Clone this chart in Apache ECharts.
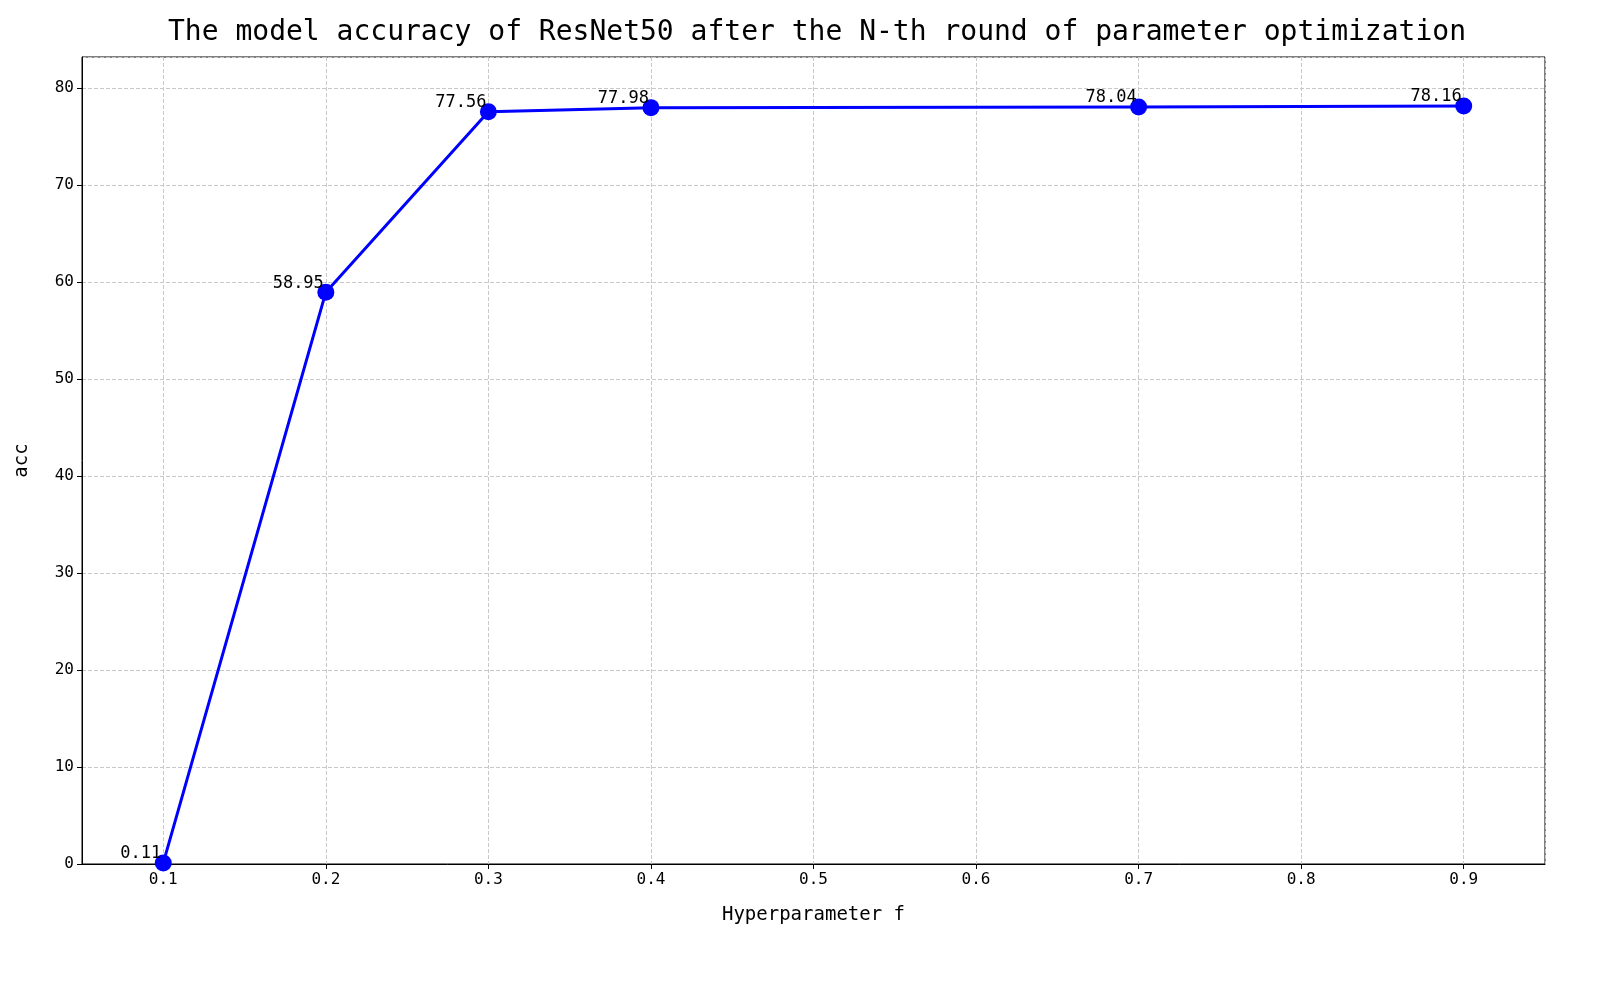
<!DOCTYPE html>
<html><head><meta charset="utf-8">
<script src="https://cdn.jsdelivr.net/npm/echarts@6/dist/echarts.min.js"></script>
<style>html,body{margin:0;background:#fff}#c{width:1619px;height:990px}</style>
</head><body><div id="c"></div>
<script>
const xValues = [0.1, 0.2, 0.3, 0.4, 0.7, 0.9];
const accValues = [0.11, 58.95, 77.56, 77.98, 78.04, 78.16];
const mono = "DejaVu Sans Mono";
const chart = echarts.init(document.getElementById('c'));
chart.setOption({
  animation: false,
  title: {text: 'The model accuracy of ResNet50 after the N-th round of parameter optimization',
    left: 812, top: 14, textAlign: 'center',
    textStyle: {fontFamily: mono, fontSize: 28, fontWeight: 'normal', color: '#000'}},
  grid: {left: 82, right: 74, top: 57, bottom: 126, show: true, borderColor: '#000', borderWidth: 1},
  xAxis: {type: 'value', min: 0.05, max: 0.95, minInterval: 0.1, maxInterval: 0.1,
    name: 'Hyperparameter f', nameLocation: 'middle', nameGap: 42,
    nameTextStyle: {fontFamily: mono, fontSize: 19, color: '#000'},
    axisLine: {onZero: false, lineStyle: {color: '#000'}},
    axisTick: {show: true, length: 5, lineStyle: {color: '#000'}},
    axisLabel: {showMinLabel: false, showMaxLabel: false, fontFamily: mono, fontSize: 16, color: '#000',
      formatter: v => v.toFixed(1)},
    splitLine: {show: true, lineStyle: {type: 'dashed', color: '#c8c8c8'}}},
  yAxis: {type: 'value', min: 0, max: 83.2, minInterval: 10, maxInterval: 10,
    name: 'acc', nameLocation: 'middle', nameGap: 50,
    nameTextStyle: {fontFamily: mono, fontSize: 19, color: '#000'},
    axisLine: {show: true, lineStyle: {color: '#000'}},
    axisTick: {show: true, length: 5, lineStyle: {color: '#000'}},
    axisLabel: {showMaxLabel: false, fontFamily: mono, fontSize: 16, color: '#000'},
    splitLine: {show: true, lineStyle: {type: 'dashed', color: '#c8c8c8'}}},
  series: [{type: 'line', data: xValues.map((x, i) => [x, accValues[i]]),
    symbol: 'circle', symbolSize: 17, itemStyle: {color: '#0000ff'},
    lineStyle: {color: '#0000ff', width: 3},
    label: {show: true, position: 'inside', offset: [-2, -9], align: 'right',
      fontFamily: mono, fontSize: 17, color: '#000',
      formatter: p => String(p.value[1])},
    z: 5}]
});
</script></body></html>
